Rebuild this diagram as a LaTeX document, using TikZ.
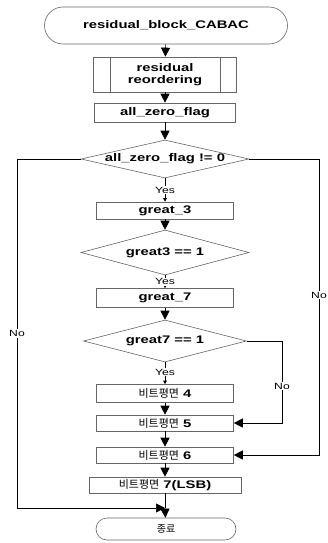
\documentclass[tikz,border=0pt]{standalone}
\usepackage{fontspec}
\setmainfont{Liberation Sans}[FakeStretch=1.35]
\newfontfamily\kr{Noto Sans CJK KR}
\usetikzlibrary{shapes.geometric,shapes.misc,arrows.meta}
\begin{document}
\begin{tikzpicture}[x=1pt,y=-1pt,
  bfont/.style={font=\fontsize{11}{12}\selectfont\bfseries},
  box/.style={draw=black!60, line width=0.6pt, minimum width=137pt, minimum height=18pt, inner sep=0pt, bfont},
  term/.style={rounded rectangle, draw=black!60, line width=0.6pt, inner sep=0pt, bfont},
  dec/.style={diamond, draw=black!60, line width=0.6pt, inner sep=0pt, bfont},
  conn/.style={draw=black, line width=0.6pt},
  arr/.style={conn, -{Triangle[length=9pt,width=9pt]}},
  sarr/.style={conn, -{Triangle[length=3.5pt,width=3.5pt]}},
  lbl/.style={fill=white, inner sep=1pt, font=\fontsize{9}{10}\selectfont}
]
\useasboundingbox (0,0) rectangle (327,543);

\node[term, minimum width=243pt, minimum height=37pt] (start) at (166,25.5) {\makebox[0pt]{residual\_block\_CABAC}};
\node[box, minimum width=143pt, minimum height=35pt, align=center] (reord) at (165,74.5) {residual\\reordering};
\draw[draw=black!60, line width=0.6pt] ([xshift=17pt]reord.north west) -- ([xshift=17pt]reord.south west);
\draw[draw=black!60, line width=0.6pt] ([xshift=-17pt]reord.north east) -- ([xshift=-17pt]reord.south east);
\node[box, minimum width=141pt, minimum height=19pt] (azf) at (165,112.5) {all\_zero\_flag};
\node[dec, minimum width=168pt, minimum height=38pt] (d1) at (165,159) {\makebox[0pt]{all\_zero\_flag != 0}};
\node[box, minimum height=17pt] (g3) at (165,210.5) {great\_3};
\node[dec, minimum width=168pt, minimum height=45pt] (d2) at (165,252.5) {\makebox[0pt]{great3 == 1}};
\node[box, minimum height=19pt] (g7) at (165,298) {great\_7};
\node[dec, minimum width=163pt, minimum height=42pt] (d3) at (165,341) {\makebox[0pt]{great7 == 1}};
\node[box] (b4) at (165,393.5) {{\kr\mdseries 비트평면} 4};
\node[box, minimum height=16pt] (b5) at (165,423) {{\kr\mdseries 비트평면} 5};
\node[box, minimum height=16pt] (b6) at (165,455) {{\kr\mdseries 비트평면} 6};
\node[box, minimum width=152pt, minimum height=16pt] (b7) at (165,485) {{\kr\mdseries 비트평면} 7(LSB)};
\coordinate (j) at (165,508);
\node[term, minimum width=140pt, minimum height=22pt] (end) at (166,529) {\makebox[0pt]{\kr\mdseries\fontsize{10}{11}\selectfont 종료}};

\coordinate (lt) at (17,159);
\coordinate (lb) at (17,508);
\coordinate (rt) at (319,159);
\coordinate (rb) at (319,455);
\coordinate (mt) at (282,341);
\coordinate (mb) at (282,423);

\draw[arr] (start) -- (reord);
\draw[arr] (reord) -- (azf);
\draw[arr] (azf) -- (d1);
\draw[sarr] (d1) -- node[lbl] {Yes} (g3);
\draw[arr] (g3) -- (d2);
\draw[sarr] (d2) -- node[lbl] {Yes} (g7);
\draw[arr] (g7) -- (d3);
\draw[sarr] (d3) -- node[lbl, pos=0.45] {Yes} (b4);
\draw[arr] (b4) -- (b5);
\draw[arr] (b5) -- (b6);
\draw[arr] (b6) -- (b7);
\draw[conn] (b7) -- (j);
\draw[arr] (j) -- (end);
\draw[arr] (d1.west) -- (lt) -- node[lbl] {No} (lb) -- (j);
\draw[arr] (d1.east) -- (rt) -- node[lbl, pos=0.46] {No} (rb) -- (b6.east);
\draw[arr] (d3.east) -- (mt) -- node[lbl, pos=0.55] {No} (mb) -- (b5.east);
\end{tikzpicture}
\end{document}
